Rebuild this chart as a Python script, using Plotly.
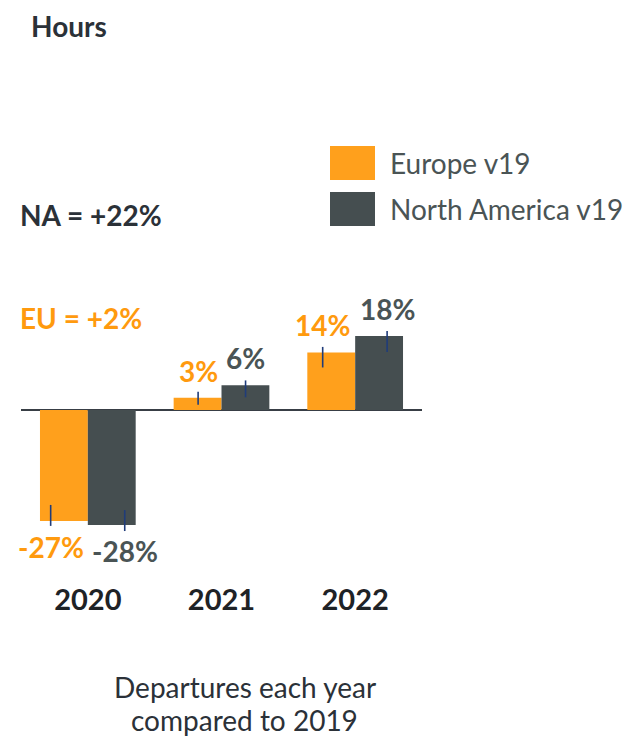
import plotly.graph_objects as go

# ---- data ----
years = ["2020", "2021", "2022"]
europe = [-27, 3, 14]
north_america = [-28, 6, 18]
europe_labels = ["-27%", "3%", "14%"]
na_labels = ["-28%", "6%", "18%"]
europe_err_up = [3.9, 1.45, 1.35]
europe_err_down = [1.2, 1.7, 3.65]
na_err_up = [3.65, 1.2, 1.2]
na_err_down = [1.45, 2.9, 3.9]
series_names = ["Europe v19", "North America v19"]
na_summary = "NA = +22%"
eu_summary = "EU = +2%"
unit_title = "Hours"
caption_lines = ["Departures each year", "compared to 2019"]

# ---- style ----
ORANGE = "#FFA01C"
ORANGE_TXT = "#FF9A0E"
GRAY = "#454E50"
GRAY_TXT = "#4A5455"
DARK = "#2B3138"
ERR = "#1F3C7A"
FONT = "Lato"

OFF = 8                      # page body margin
W, H = 635 - OFF, 739 - OFF
# plot area in page pixels
L, R, T, B = 21, 422, 300, 580
ZERO_PX = 410
PX_PER_UNIT = 4.11
y_top = (ZERO_PX - T) / PX_PER_UNIT
y_bot = -(B - ZERO_PX) / PX_PER_UNIT
CAT_PX = (R - L) / len(years)

eu_mark_offset = [-0.278, -0.175, -0.243]
na_mark_offset = [0.276, 0.18, 0.239]


def px_x(px):
    return (px - L) / (R - L)


def px_y(py):
    return (B - py) / (B - T)


fig = go.Figure()
fig.add_trace(go.Bar(x=years, y=europe, name=series_names[0],
                     marker=dict(color=ORANGE, line=dict(width=0)), showlegend=False))
fig.add_trace(go.Bar(x=years, y=north_america, name=series_names[1],
                     marker=dict(color=GRAY, line=dict(width=0)), showlegend=False))

# thin markers (error bars) drawn on invisible narrow bars
for vals, up, down, offs, nm in [
    (europe, europe_err_up, europe_err_down, eu_mark_offset, series_names[0]),
    (north_america, na_err_up, na_err_down, na_mark_offset, series_names[1]),
]:
    fig.add_trace(go.Bar(
        x=years, y=vals, width=[0.004] * 3, offset=[o - 0.002 for o in offs],
        marker=dict(color="rgba(0,0,0,0)", line=dict(width=0)),
        error_y=dict(type="data", symmetric=False, array=up, arrayminus=down,
                     color=ERR, thickness=1.6, width=0),
        showlegend=False, hoverinfo="skip", name=nm))

annotations = []
for vals, labels, offs, col in [
    (europe, europe_labels, eu_mark_offset, ORANGE_TXT),
    (north_america, na_labels, na_mark_offset, GRAY_TXT),
]:
    for i, (v, lab, o) in enumerate(zip(vals, labels, offs)):
        pos = v >= 0
        annotations.append(dict(
            x=i, y=v, xref="x", yref="y", text=f"<b>{lab}</b>", showarrow=False,
            xshift=o * CAT_PX, yshift=8 if pos else -7,
            yanchor="bottom" if pos else "top", xanchor="center",
            font=dict(family=FONT, size=28, color=col)))

annotations += [
    dict(x=px_x(29), y=px_y(26), xref="paper", yref="paper", text=f"<b>{unit_title}</b>",
         showarrow=False, xanchor="left", yanchor="middle",
         font=dict(family=FONT, size=28, color=DARK)),
    dict(x=px_x(18), y=px_y(215), xref="paper", yref="paper", text=f"<b>{na_summary}</b>",
         showarrow=False, xanchor="left", yanchor="middle",
         font=dict(family=FONT, size=28, color=DARK)),
    dict(x=px_x(18), y=px_y(318), xref="paper", yref="paper", text=f"<b>{eu_summary}</b>",
         showarrow=False, xanchor="left", yanchor="middle",
         font=dict(family=FONT, size=28, color=ORANGE_TXT)),
    dict(x=px_x(245), y=px_y(687), xref="paper", yref="paper", text=caption_lines[0],
         showarrow=False, xanchor="center", yanchor="middle",
         font=dict(family=FONT, size=28, color=DARK)),
    dict(x=px_x(245), y=px_y(720), xref="paper", yref="paper", text=caption_lines[1],
         showarrow=False, xanchor="center", yanchor="middle",
         font=dict(family=FONT, size=28, color=DARK)),
    dict(x=px_x(388), y=px_y(163), xref="paper", yref="paper", text=series_names[0],
         showarrow=False, xanchor="left", yanchor="middle",
         font=dict(family=FONT, size=28, color=GRAY_TXT)),
    dict(x=px_x(388), y=px_y(209), xref="paper", yref="paper", text=series_names[1],
         showarrow=False, xanchor="left", yanchor="middle",
         font=dict(family=FONT, size=28, color=GRAY_TXT)),
]

shapes = [
    dict(type="rect", xref="paper", yref="paper", x0=px_x(330), x1=px_x(375),
         y0=px_y(180), y1=px_y(146), fillcolor=ORANGE, line=dict(width=0)),
    dict(type="rect", xref="paper", yref="paper", x0=px_x(330), x1=px_x(375),
         y0=px_y(226), y1=px_y(192), fillcolor=GRAY, line=dict(width=0)),
]

fig.update_layout(
    width=W, height=H,
    margin=dict(l=L - OFF, r=W - (R - OFF), t=T - OFF, b=H - (B - OFF), pad=0,
                autoexpand=False),
    paper_bgcolor="white", plot_bgcolor="white",
    barmode="group", bargap=0.284, bargroupgap=0,
    annotations=annotations, shapes=shapes,
    font=dict(family=FONT),
    showlegend=False,
)
fig.update_xaxes(type="category", range=[-0.5, len(years) - 0.5], automargin=False,
                 showgrid=False, showline=False, ticks="", zeroline=False,
                 tickfont=dict(family=FONT, size=29, color="#1E2226"),
                 tickprefix="<b>", ticksuffix="</b>", ticklabelstandoff=0)
fig.update_yaxes(range=[y_bot, y_top], automargin=False, showgrid=False,
                 showticklabels=False,
                 zeroline=True, zerolinecolor="#383E45", zerolinewidth=2)

fig.write_html("out.html")
